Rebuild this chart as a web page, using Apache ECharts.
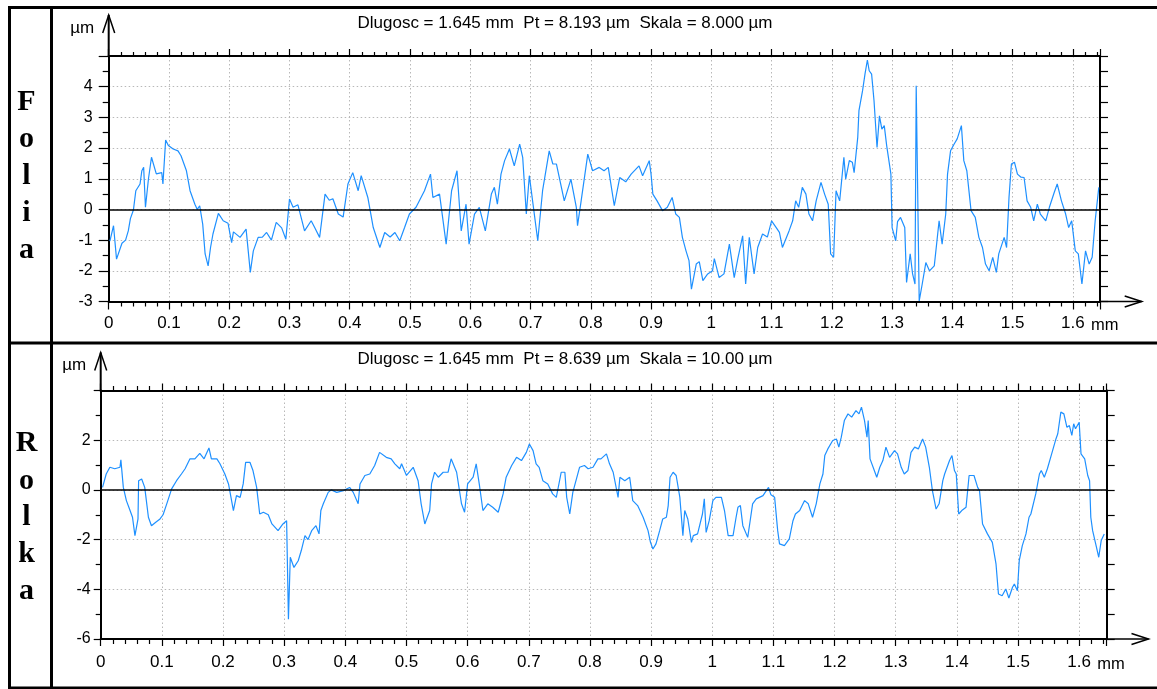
<!DOCTYPE html>
<html><head><meta charset="utf-8">
<script src="https://cdn.jsdelivr.net/npm/echarts@6/dist/echarts.min.js"></script>
<style>html,body{margin:0;padding:0;background:#fff}#c{width:1157px;height:689px}</style>
</head><body><div id="c"></div>
<script>
// ---------- data ----------
const LENGTH_MM = 1.645;
const TITLES = [
  'Dlugosc = 1.645 mm  Pt = 8.193 µm  Skala = 8.000 µm',
  'Dlugosc = 1.645 mm  Pt = 8.639 µm  Skala = 10.00 µm'
];
const SIDE_LABELS = ['Folia', 'Rolka'];
const Y_RANGE_FOLIA = [-3, 5];
const Y_RANGE_ROLKA = [-6, 4];

// Folia profile: [x mm, z µm]
const foliaProfile = [
[0.002,-1.03],[0.008,-0.53],[0.013,-1.62],[0.022,-1.1],[0.028,-1.0],[0.0325,-0.7],[0.036,-0.3],[0.041,-0.02],
[0.045,0.61],[0.052,0.83],[0.055,1.26],[0.058,1.37],[0.061,0.07],[0.066,1.0],[0.071,1.7],[0.079,1.16],
[0.088,1.2],[0.09,0.83],[0.0945,2.26],[0.099,2.08],[0.107,1.97],[0.115,1.91],[0.12,1.75],[0.129,1.26],
[0.135,0.61],[0.143,0.17],[0.147,0.0],[0.151,0.12],[0.156,-0.48],[0.16,-1.45],[0.165,-1.84],[0.169,-1.24],
[0.173,-0.8],[0.182,-0.13],[0.19,-0.37],[0.198,-0.45],[0.204,-1.08],[0.207,-0.73],[0.218,-0.91],[0.228,-0.64],
[0.235,-2.05],[0.24,-1.35],[0.248,-0.91],[0.255,-0.9],[0.262,-0.75],[0.27,-1.0],[0.278,-0.42],[0.287,-0.6],
[0.294,-0.97],[0.3,0.34],[0.306,0.07],[0.314,0.15],[0.325,-0.7],[0.336,-0.37],[0.342,-0.6],[0.35,-0.91],
[0.359,0.5],[0.366,0.3],[0.372,0.35],[0.381,-0.15],[0.389,-0.25],[0.397,0.83],[0.405,1.2],[0.414,0.61],
[0.419,1.1],[0.43,0.39],[0.439,-0.59],[0.45,-1.24],[0.458,-0.75],[0.467,-0.9],[0.475,-0.75],[0.483,-1.02],
[0.491,-0.59],[0.499,-0.15],[0.51,0.07],[0.524,0.61],[0.534,1.15],[0.538,0.39],[0.549,0.5],[0.56,-1.13],
[0.569,0.61],[0.578,1.26],[0.585,-0.7],[0.593,0.17],[0.598,-1.13],[0.607,-0.15],[0.615,0.07],[0.625,-0.7],
[0.635,0.5],[0.64,0.72],[0.645,0.17],[0.651,1.15],[0.657,1.59],[0.665,1.97],[0.673,1.42],[0.682,2.13],
[0.687,1.7],[0.693,-0.15],[0.698,1.1],[0.712,-1.02],[0.72,0.61],[0.731,1.91],[0.737,1.48],[0.743,1.48],
[0.756,0.28],[0.767,0.99],[0.776,0.07],[0.778,-0.53],[0.784,0.28],[0.795,1.8],[0.803,1.26],[0.814,1.37],
[0.822,1.26],[0.829,1.37],[0.839,0.12],[0.848,1.04],[0.858,0.9],[0.867,1.15],[0.88,1.42],[0.886,1.1],
[0.897,1.59],[0.9,1.15],[0.903,0.5],[0.91,0.28],[0.919,-0.04],[0.927,0.07],[0.935,0.39],[0.941,-0.15],
[0.947,-0.26],[0.952,-0.91],[0.958,-1.35],[0.963,-1.67],[0.967,-2.6],[0.975,-1.78],[0.98,-1.7],[0.986,-2.32],
[0.994,-2.1],[1.002,-2.0],[1.005,-1.6],[1.013,-2.22],[1.021,-2.1],[1.03,-1.13],[1.038,-2.22],[1.044,-1.6],
[1.052,-0.86],[1.057,-2.43],[1.063,-0.91],[1.071,-2.1],[1.077,-1.24],[1.085,-0.8],[1.093,-0.9],[1.1,-0.37],
[1.108,-0.6],[1.113,-0.75],[1.118,-1.24],[1.129,-0.7],[1.135,-0.37],[1.14,0.28],[1.145,0.07],[1.151,0.72],
[1.157,0.5],[1.162,-0.15],[1.168,-0.37],[1.174,0.28],[1.182,0.88],[1.188,0.5],[1.194,0.17],[1.198,-1.45],
[1.203,-1.56],[1.207,0.61],[1.213,0.28],[1.22,1.7],[1.223,0.99],[1.229,1.59],[1.234,1.54],[1.237,1.2],
[1.243,2.35],[1.245,3.22],[1.251,3.87],[1.255,4.41],[1.259,4.87],[1.262,4.52],[1.266,4.41],[1.27,3.54],
[1.275,2.02],[1.279,3.05],[1.283,2.62],[1.287,2.73],[1.291,2.08],[1.294,2.13],[1.298,1.15],[1.3,-0.59],
[1.306,-1.02],[1.309,-0.4],[1.314,-0.26],[1.321,-0.59],[1.324,-2.38],[1.33,-1.45],[1.334,-2.1],[1.338,-2.43],
[1.34,4.03],[1.345,-2.98],[1.35,-2.43],[1.356,-1.73],[1.362,-2.0],[1.37,-1.84],[1.378,-0.37],[1.383,-1.13],
[1.389,-0.15],[1.392,1.15],[1.397,1.91],[1.403,2.13],[1.408,2.3],[1.415,2.73],[1.419,1.59],[1.424,1.26],
[1.431,-0.04],[1.438,-0.26],[1.444,-0.91],[1.45,-1.24],[1.455,-1.78],[1.461,-2.0],[1.467,-1.56],[1.473,-2.05],
[1.477,-1.45],[1.486,-0.91],[1.49,-1.24],[1.494,0.39],[1.498,1.48],[1.503,1.54],[1.508,1.15],[1.514,1.05],
[1.519,1.04],[1.524,0.28],[1.53,0.07],[1.535,-0.37],[1.541,0.17],[1.546,-0.15],[1.555,-0.37],[1.561,0.07],
[1.569,0.55],[1.574,0.83],[1.581,0.28],[1.588,-0.15],[1.593,-0.59],[1.598,-0.37],[1.604,-1.35],[1.609,-1.45],
[1.615,-2.43],[1.621,-1.35],[1.627,-1.78],[1.632,-1.56],[1.637,-0.37],[1.643,0.72]
];

// Rolka profile: [x mm, z µm]
const rolkaProfile = [
[0.003,0.1],[0.009,0.64],[0.015,0.91],[0.023,0.85],[0.0315,0.91],[0.033,1.21],[0.037,0.1],[0.042,-0.43],
[0.048,-0.83],[0.052,-1.1],[0.056,-1.84],[0.061,-1.17],[0.062,0.37],[0.067,0.44],[0.072,0.1],[0.078,-1.1],
[0.083,-1.44],[0.09,-1.3],[0.097,-1.17],[0.102,-1.0],[0.108,-0.56],[0.116,0.04],[0.124,0.37],[0.132,0.64],
[0.138,0.85],[0.146,1.25],[0.154,1.25],[0.162,1.47],[0.169,1.25],[0.177,1.69],[0.181,1.25],[0.19,1.25],
[0.195,1.05],[0.203,0.64],[0.209,0.24],[0.217,-0.83],[0.222,-0.23],[0.228,-0.3],[0.233,0.24],[0.237,1.11],
[0.244,1.11],[0.249,0.78],[0.255,0.1],[0.26,-0.97],[0.266,-0.9],[0.274,-1.0],[0.28,-1.37],[0.29,-1.64],
[0.298,-1.37],[0.304,-1.24],[0.307,-5.2],[0.31,-2.71],[0.316,-3.12],[0.323,-2.85],[0.328,-2.44],[0.334,-1.84],
[0.339,-2.0],[0.345,-1.64],[0.352,-1.44],[0.357,-1.77],[0.36,-0.83],[0.364,-0.56],[0.372,-0.1],[0.377,0.0],
[0.386,-0.1],[0.397,-0.03],[0.407,0.1],[0.413,-0.1],[0.421,-0.56],[0.424,0.24],[0.432,0.58],[0.44,0.64],
[0.448,0.98],[0.456,1.51],[0.467,1.31],[0.475,1.25],[0.481,1.05],[0.489,0.85],[0.492,1.05],[0.5,0.58],
[0.511,0.91],[0.519,0.37],[0.524,-0.56],[0.53,-1.37],[0.538,-0.83],[0.541,0.24],[0.546,0.71],[0.552,0.51],
[0.56,0.71],[0.568,0.71],[0.573,1.25],[0.582,0.71],[0.59,-0.56],[0.595,-0.9],[0.6,0.24],[0.609,0.51],
[0.614,1.05],[0.619,0.24],[0.625,-0.83],[0.633,-0.56],[0.641,-0.7],[0.65,-0.9],[0.658,-0.16],[0.663,0.51],
[0.672,0.98],[0.68,1.31],[0.688,1.18],[0.696,1.51],[0.701,1.85],[0.707,1.58],[0.712,1.05],[0.717,0.91],
[0.723,0.37],[0.731,0.24],[0.739,-0.16],[0.745,-0.3],[0.753,0.71],[0.759,0.71],[0.762,-0.3],[0.767,-0.97],
[0.772,-0.1],[0.783,0.91],[0.791,0.98],[0.797,0.85],[0.805,0.91],[0.813,1.25],[0.818,1.25],[0.827,1.45],
[0.832,1.05],[0.838,0.71],[0.846,-0.3],[0.849,0.51],[0.857,0.37],[0.865,0.51],[0.87,-0.43],[0.878,-0.63],
[0.887,-1.1],[0.895,-1.64],[0.899,-2.11],[0.903,-2.38],[0.908,-2.17],[0.914,-1.64],[0.919,-1.17],[0.925,-1.1],
[0.928,-0.63],[0.931,0.51],[0.936,0.71],[0.941,0.58],[0.947,-0.3],[0.952,-1.84],[0.955,-0.83],[0.96,-1.17],
[0.966,-2.11],[0.969,-1.84],[0.976,-1.77],[0.984,-0.97],[0.987,-0.36],[0.99,-1.71],[0.995,-1.24],[1.001,-0.43],
[1.006,-0.3],[1.015,-0.3],[1.02,-0.83],[1.026,-1.84],[1.034,-1.84],[1.039,-1.1],[1.042,-0.7],[1.046,-0.63],
[1.05,-1.44],[1.058,-1.91],[1.062,-1.24],[1.066,-0.56],[1.072,-0.36],[1.083,-0.23],[1.092,0.1],[1.096,-0.2],
[1.102,-0.3],[1.107,-1.64],[1.11,-2.17],[1.118,-2.24],[1.126,-1.97],[1.132,-1.24],[1.136,-0.97],[1.143,-0.83],
[1.151,-0.43],[1.157,-0.56],[1.164,-1.1],[1.17,-0.56],[1.176,0.24],[1.181,0.64],[1.184,1.38],[1.189,1.65],
[1.197,1.99],[1.203,2.05],[1.207,1.72],[1.211,2.12],[1.216,2.79],[1.222,3.06],[1.228,2.93],[1.235,3.19],
[1.24,3.06],[1.244,3.33],[1.249,2.79],[1.253,2.12],[1.255,2.79],[1.258,1.25],[1.265,0.78],[1.269,0.51],
[1.274,0.91],[1.279,1.18],[1.284,1.72],[1.29,1.31],[1.298,1.58],[1.303,1.45],[1.309,0.91],[1.314,0.64],
[1.32,0.78],[1.325,1.51],[1.331,1.72],[1.337,1.65],[1.344,2.05],[1.349,1.72],[1.355,0.91],[1.36,-0.03],
[1.366,-0.77],[1.371,-0.56],[1.377,0.37],[1.38,0.64],[1.388,1.18],[1.392,1.38],[1.396,0.78],[1.399,0.64],
[1.403,-0.97],[1.408,-0.83],[1.415,-0.7],[1.42,0.58],[1.428,0.58],[1.434,0.1],[1.437,-0.03],[1.442,-1.37],
[1.45,-1.77],[1.458,-2.11],[1.464,-2.98],[1.468,-4.19],[1.474,-4.26],[1.48,-3.99],[1.485,-4.35],[1.491,-3.92],
[1.494,-3.79],[1.499,-4.06],[1.502,-2.85],[1.507,-2.24],[1.513,-1.77],[1.518,-1.1],[1.521,-0.97],[1.529,-0.16],
[1.535,0.64],[1.538,0.78],[1.543,0.51],[1.548,0.85],[1.555,1.45],[1.562,2.05],[1.565,2.26],[1.57,3.13],
[1.575,3.06],[1.58,2.52],[1.584,2.59],[1.588,2.19],[1.591,2.66],[1.594,2.46],[1.6,2.72],[1.603,1.45],
[1.609,1.25],[1.614,0.58],[1.617,0.37],[1.619,-1.1],[1.622,-1.64],[1.627,-2.17],[1.632,-2.71],[1.636,-2.04],
[1.641,-1.77]
];

// ---------- styling / layout ----------
const FONT = '"Liberation Sans", Arial, sans-serif';
const SERIF = '"Liberation Serif", "Times New Roman", serif';
const LINE_BLUE = '#1e90ff';
const GRIDS = [
  {left: 108.7, top: 56, width: 991.3, height: 245.5},
  {left: 100.7, top: 390.5, width: 1006, height: 248.5}
];
const P = [
  {yMin: Y_RANGE_FOLIA[0], yMax: Y_RANGE_FOLIA[1], yInt: 1, ySplit: 2, rInt: 0.5,
   yMargin: 16, yTick: 10, yMinor: 6, xMargin: 13.5, xTick: 8, xMinor: 5, tTick: 7, tMinor: 4},
  {yMin: Y_RANGE_ROLKA[0], yMax: Y_RANGE_ROLKA[1], yInt: 2, ySplit: 2, rInt: 1,
   yMargin: 10, yTick: 7, yMinor: 5, xMargin: 15, xTick: 7, xMinor: 5, tTick: 7, tMinor: 4.5}
];
const axisLine = {show: true, onZero: false, lineStyle: {color: '#000', width: 2}};
const tickStyle = {color: '#000', width: 1.2};
const splitStyle = {show: true, lineStyle: {color: '#b8b8b8', width: 1, type: [1.5, 2.5]}};

const chart = echarts.init(document.getElementById('c'), null, {renderer: 'canvas'});

const xAxes = [], yAxes = [];
P.forEach((p, gi) => {
  xAxes.push({ // bottom
    type: 'value', gridIndex: gi, position: 'bottom', min: 0, max: LENGTH_MM, interval: 0.1,
    axisLine, axisTick: {show: true, inside: false, length: p.xTick, lineStyle: tickStyle},
    minorTick: {show: true, splitNumber: 5, length: p.xMinor, lineStyle: tickStyle},
    axisLabel: {show: true, margin: p.xMargin, color: '#000', fontSize: 17, fontFamily: FONT, showMaxLabel: false},
    splitLine: splitStyle
  });
  xAxes.push({ // top
    type: 'value', gridIndex: gi, position: 'top', min: 0, max: LENGTH_MM, interval: 0.1,
    axisLine, axisTick: {show: true, inside: false, length: p.tTick, lineStyle: tickStyle},
    minorTick: {show: true, splitNumber: 5, length: p.tMinor, lineStyle: tickStyle},
    axisLabel: {show: false}, splitLine: {show: false}
  });
  yAxes.push({ // left
    type: 'value', gridIndex: gi, position: 'left', min: p.yMin, max: p.yMax, interval: p.yInt,
    axisLine, axisTick: {show: true, inside: false, length: p.yTick, lineStyle: tickStyle},
    minorTick: {show: true, splitNumber: p.ySplit, length: p.yMinor, lineStyle: tickStyle},
    axisLabel: {show: true, margin: p.yMargin, color: '#000', fontSize: 16, fontFamily: FONT, showMaxLabel: false},
    splitLine: splitStyle
  });
  yAxes.push({ // right
    type: 'value', gridIndex: gi, position: 'right', min: p.yMin, max: p.yMax, interval: p.rInt,
    axisLine, axisTick: {show: true, inside: false, length: 8, lineStyle: tickStyle},
    axisLabel: {show: false}, splitLine: {show: false}
  });
});

const profiles = [foliaProfile, rolkaProfile];
const series = profiles.map((data, gi) => ({
  type: 'line', xAxisIndex: gi * 2, yAxisIndex: gi * 2, data,
  showSymbol: false, symbol: 'none', silent: true, animation: false,
  lineStyle: {color: LINE_BLUE, width: 1.2}, z: 3,
  markLine: {
    silent: true, symbol: ['none', 'none'], label: {show: false}, animation: false,
    lineStyle: {color: '#000', width: 1.7, type: 'solid'},
    data: [{yAxis: 0}]
  }
}));

chart.setOption({
  backgroundColor: '#fff',
  animation: false,
  grid: GRIDS.map(g => Object.assign({containLabel: false}, g)),
  xAxis: xAxes,
  yAxis: yAxes,
  series
});

// ---------- decorations anchored to the axes ----------
const ARROW = [
  {yTipUp: 41, xTipRight: 41.7},
  {yTipUp: 38, xTipRight: 41.8}
];
const gfx = [];
const blk = {stroke: '#000', lineWidth: 1.5, fill: null};
P.forEach((p, gi) => {
  const tl = chart.convertToPixel({xAxisIndex: gi * 2, yAxisIndex: gi * 2}, [0, p.yMax]);
  const br = chart.convertToPixel({xAxisIndex: gi * 2, yAxisIndex: gi * 2}, [LENGTH_MM, p.yMin]);
  const a = ARROW[gi];
  // y arrow
  const yt = tl[1] - a.yTipUp;
  gfx.push({type: 'line', shape: {x1: tl[0], y1: tl[1], x2: tl[0], y2: yt}, style: {stroke: '#000', lineWidth: 2}, z: 10});
  gfx.push({type: 'polyline', shape: {points: [[tl[0] - 6, yt + 18], [tl[0], yt], [tl[0] + 6, yt + 18]]}, style: blk, z: 10});
  // x arrow
  const xt = br[0] + a.xTipRight;
  gfx.push({type: 'line', shape: {x1: br[0], y1: br[1], x2: xt, y2: br[1]}, style: {stroke: '#000', lineWidth: 1.6}, z: 10});
  gfx.push({type: 'polyline', shape: {points: [[xt - 17, br[1] - 5.5], [xt, br[1]], [xt - 17, br[1] + 5.5]]}, style: blk, z: 10});
  // unit labels
  gfx.push({type: 'text', x: tl[0] - 14.5, y: yt + 13, style: {text: 'µm', font: '17px ' + FONT, fill: '#000', textAlign: 'right', textVerticalAlign: 'middle'}, z: 10});
  const l16 = chart.convertToPixel({xAxisIndex: gi * 2, yAxisIndex: gi * 2}, [1.6, p.yMin]);
  gfx.push({type: 'text', x: l16[0] + 18, y: br[1] + p.xMargin + 10, style: {text: 'mm', font: '16.5px ' + FONT, fill: '#000', textAlign: 'left', textVerticalAlign: 'middle'}, z: 10});
});
// titles
gfx.push({type: 'text', x: 565, y: 23.5, style: {text: TITLES[0], font: '17px ' + FONT, fill: '#000', textAlign: 'center', textVerticalAlign: 'middle'}});
gfx.push({type: 'text', x: 565, y: 359.5, style: {text: TITLES[1], font: '17px ' + FONT, fill: '#000', textAlign: 'center', textVerticalAlign: 'middle'}});
// side letters
const sideY = [[102, 139, 176, 213, 250], [443, 481, 517, 554, 591]];
SIDE_LABELS.forEach((word, k) => {
  word.split('').forEach((ch, i) => {
    gfx.push({type: 'text', x: 26.5, y: sideY[k][i], style: {text: ch, font: 'bold 30px ' + SERIF, fill: '#000', textAlign: 'center', textVerticalAlign: 'middle'}});
  });
});
// outer table frame
const frame = {stroke: '#000', lineWidth: 3};
gfx.push({type: 'line', shape: {x1: 8, y1: 7.5, x2: 1157, y2: 7.5}, style: frame});
gfx.push({type: 'line', shape: {x1: 9.5, y1: 6, x2: 9.5, y2: 689}, style: frame});
gfx.push({type: 'line', shape: {x1: 51.5, y1: 6, x2: 51.5, y2: 689}, style: frame});
gfx.push({type: 'line', shape: {x1: 8, y1: 343, x2: 1157, y2: 343}, style: frame});
gfx.push({type: 'line', shape: {x1: 8, y1: 688, x2: 1157, y2: 688}, style: frame});

chart.setOption({graphic: {elements: gfx}});
</script>
</body></html>
